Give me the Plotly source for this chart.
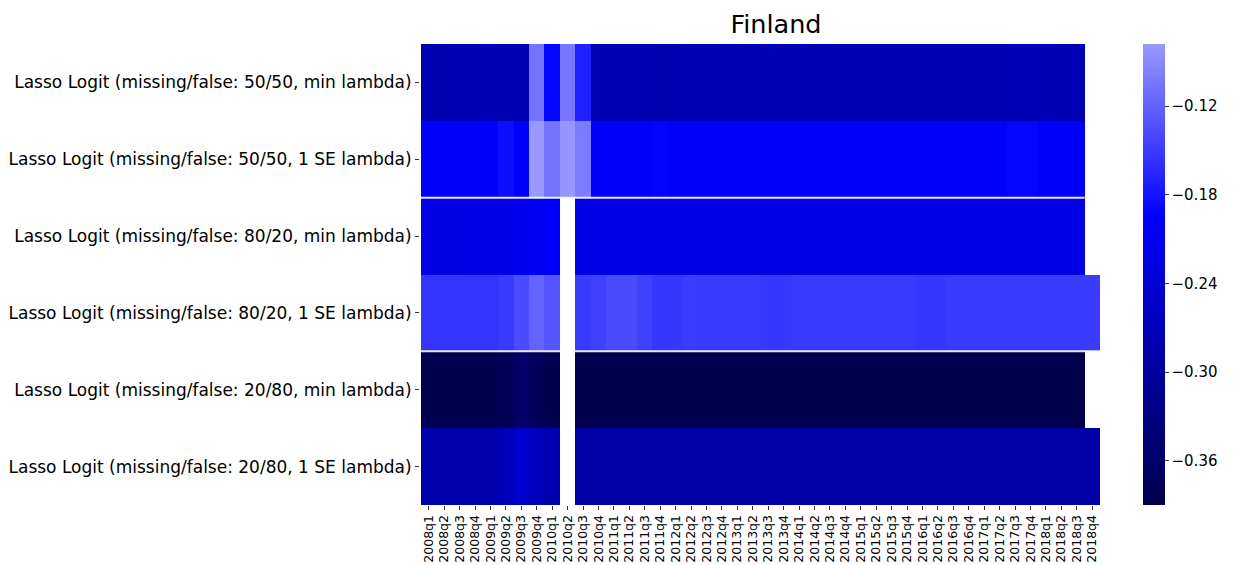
import plotly.graph_objects as go

quarters = [f"{y}q{q}" for y in range(2008, 2019) for q in range(1, 5)]

models = [
    "Lasso Logit (missing/false: 50/50, min lambda)",
    "Lasso Logit (missing/false: 50/50, 1 SE lambda)",
    "Lasso Logit (missing/false: 80/20, min lambda)",
    "Lasso Logit (missing/false: 80/20, 1 SE lambda)",
    "Lasso Logit (missing/false: 20/80, min lambda)",
    "Lasso Logit (missing/false: 20/80, 1 SE lambda)",
]

N = None
r_5050_min = [-0.278, -0.278, -0.277, -0.277, -0.275, -0.276, -0.277, -0.107, -0.190, -0.103, -0.170,
              -0.277, -0.277, -0.276, -0.277, -0.278, -0.278, -0.277, -0.277, -0.277, -0.277, -0.278,
              -0.277, -0.277, -0.277, -0.277, -0.277, -0.277, -0.277, -0.277, -0.277, -0.277, -0.277,
              -0.277, -0.277, -0.277, -0.277, -0.277, -0.275, -0.275, -0.275, -0.277, -0.276, N]
r_5050_1se = [-0.198, -0.198, -0.198, -0.198, -0.195, -0.186, -0.197, -0.078, -0.107, -0.080, -0.100,
              -0.198, -0.198, -0.198, -0.198, -0.193, -0.198, -0.198, -0.198, -0.198, -0.198, -0.198,
              -0.198, -0.198, -0.198, -0.198, -0.198, -0.198, -0.198, -0.198, -0.198, -0.198, -0.198,
              -0.198, -0.198, -0.198, -0.198, -0.198, -0.191, -0.191, -0.196, -0.196, -0.197, N]
r_8020_min = [-0.225, -0.225, -0.225, -0.224, -0.224, -0.223, -0.214, -0.204, -0.198, N, -0.224,
              -0.224, -0.224, -0.224, -0.224, -0.224, -0.224, -0.224, -0.224, -0.224, -0.224, -0.224,
              -0.224, -0.224, -0.224, -0.224, -0.224, -0.224, -0.224, -0.224, -0.224, -0.224, -0.224,
              -0.224, -0.224, -0.224, -0.224, -0.224, -0.224, -0.224, -0.224, -0.224, -0.224, N]
r_8020_1se = [-0.155, -0.155, -0.155, -0.155, -0.155, -0.150, -0.138, -0.119, -0.130, N, -0.150,
              -0.146, -0.138, -0.138, -0.146, -0.153, -0.153, -0.149, -0.150, -0.150, -0.150, -0.150,
              -0.153, -0.153, -0.150, -0.150, -0.150, -0.150, -0.150, -0.150, -0.150, -0.150, -0.153,
              -0.153, -0.150, -0.150, -0.150, -0.150, -0.150, -0.150, -0.150, -0.150, -0.150, -0.150]
r_2080_min = [-0.388, -0.388, -0.388, -0.388, -0.387, -0.380, -0.362, -0.374, -0.385, N, -0.387,
              -0.387, -0.387, -0.387, -0.388, -0.388, -0.388, -0.388, -0.388, -0.388, -0.388, -0.388,
              -0.388, -0.388, -0.388, -0.388, -0.388, -0.388, -0.388, -0.388, -0.388, -0.388, -0.388,
              -0.388, -0.388, -0.388, -0.388, -0.388, -0.388, -0.388, -0.388, -0.388, -0.390, N]
r_2080_1se = [-0.290, -0.290, -0.290, -0.290, -0.288, -0.270, -0.250, -0.265, -0.280, N, -0.292,
              -0.292, -0.292, -0.292, -0.292, -0.292, -0.292, -0.292, -0.292, -0.292, -0.292, -0.292,
              -0.292, -0.292, -0.292, -0.292, -0.292, -0.292, -0.292, -0.292, -0.292, -0.292, -0.292,
              -0.292, -0.292, -0.292, -0.292, -0.292, -0.292, -0.292, -0.292, -0.292, -0.292, -0.292]

z = [r_5050_min, r_5050_1se, r_8020_min, r_8020_1se, r_2080_min, r_2080_1se]
cb_ticks = [-0.36, -0.30, -0.24, -0.18, -0.12]

vals = [v for row in z for v in row if v is not None]
zmin, zmax = min(vals), max(vals)

# seismic colormap centred at 0 (seaborn style), restricted to data range
seis = [(0.0, (0, 0, 0.3)), (0.25, (0, 0, 1.0)), (0.5, (1, 1, 1)), (0.75, (1, 0, 0)), (1.0, (0.5, 0, 0))]
vlim = max(abs(zmin), abs(zmax))
def seis_col(v):
    t = (v + vlim) / (2 * vlim)
    for (p0, c0), (p1, c1) in zip(seis[:-1], seis[1:]):
        if p0 <= t <= p1:
            f = (t - p0) / (p1 - p0)
            c = [c0[i] + f * (c1[i] - c0[i]) for i in range(3)]
            return "rgb(%d,%d,%d)" % tuple(round(x * 255) for x in c)
    return "rgb(0,0,77)"
nst = 40
colorscale = []
for i in range(nst + 1):
    v = zmin + (zmax - zmin) * i / nst
    colorscale.append([i / nst, seis_col(v)])

# page body has an 8px offset; compensate
OFF = 8
W, H = 1234 - OFF, 565 - OFF
L, R, T, B = 420 - OFF, 1101 - OFF, 44 - OFF, 505 - OFF
CBX = 1143 - OFF
TITLE_X = 776 - OFF

fig = go.Figure(go.Heatmap(
    z=z, x=quarters, y=models, zmin=zmin, zmax=zmax, colorscale=colorscale,
    hoverongaps=False,
    colorbar=dict(
        tickvals=cb_ticks, ticktext=["\u2212%.2f" % abs(t) for t in cb_ticks],
        x=(CBX - L) / (R - L), xanchor="left", y=0, yanchor="bottom", len=1, lenmode="fraction",
        xpad=0, ypad=0,
        thickness=22, outlinewidth=0, ticks="outside", ticklen=4, tickcolor="#333",
        tickfont=dict(family="DejaVu Sans", size=15, color="black"),
    ),
))

# separators between model groups
for b in (1, 3):
    last = max(max(i for i, v in enumerate(z[b]) if v is not None),
               max(i for i, v in enumerate(z[b + 1]) if v is not None))
    fig.add_shape(type="line", xref="x", yref="y", x0=-0.5, x1=last + 0.5, y0=b + 0.5, y1=b + 0.5,
                  line=dict(color="rgba(255,255,255,0.9)", width=2))

fig.update_layout(
    width=W, height=H,
    margin=dict(l=L, r=W - R, t=T, b=H - B, autoexpand=False),
    paper_bgcolor="white", plot_bgcolor="white",
    title=dict(text="Finland", x=TITLE_X / W, xanchor="center", y=1 - (24 - OFF) / H, yanchor="middle",
               font=dict(family="DejaVu Sans", size=25.5, color="black")),
    font=dict(family="DejaVu Sans", color="black"),
)
fig.update_xaxes(tickangle=-90, tickfont=dict(size=12.5), ticks="outside", ticklen=4, tickcolor="#333",
                 showgrid=False, zeroline=False, showline=False)
fig.update_yaxes(autorange="reversed", tickfont=dict(size=17), ticks="outside", ticklen=4, tickcolor="#333",
                 showgrid=False, zeroline=False, showline=False)

fig.write_html("out.html")
